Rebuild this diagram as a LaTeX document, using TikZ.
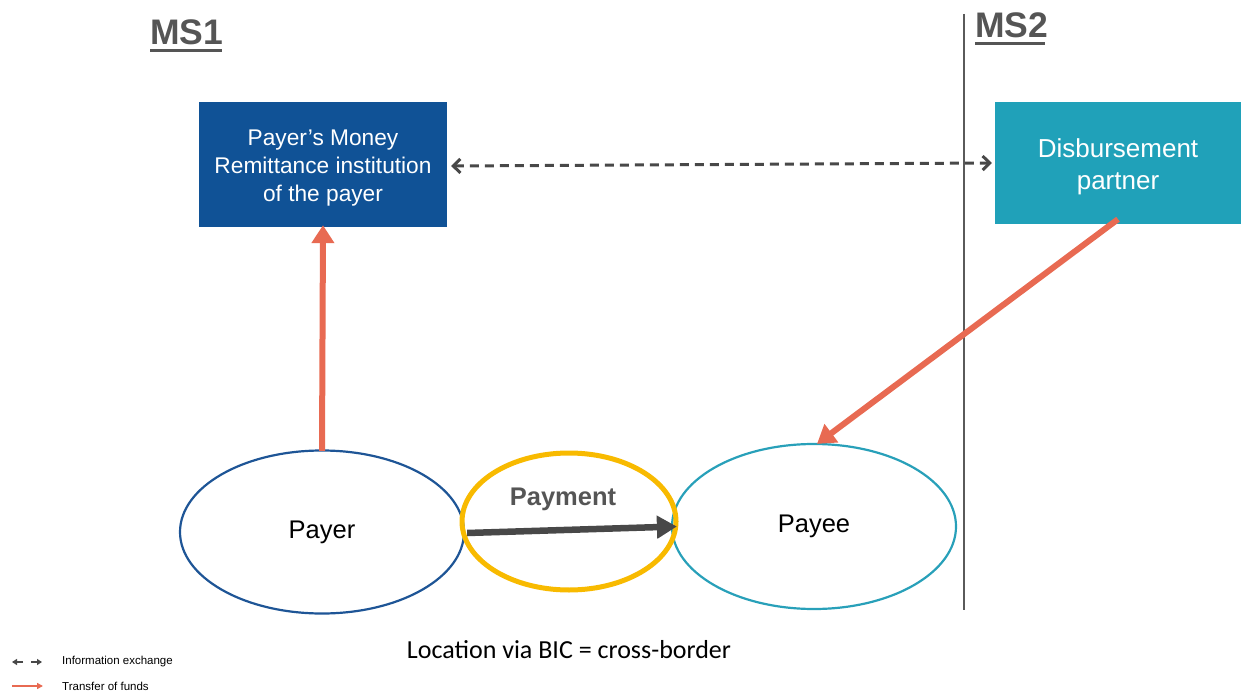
\documentclass[tikz,border=0pt]{standalone}
\usepackage{fontspec}
\setmainfont{Liberation Sans}
\newfontfamily\calib{Carlito}
\usetikzlibrary{arrows.meta,shapes.geometric}
\definecolor{boxblue}{RGB}{16,82,150}
\definecolor{boxteal}{RGB}{32,161,185}
\definecolor{funds}{RGB}{232,106,82}
\definecolor{payyel}{RGB}{248,186,0}
\definecolor{payerline}{RGB}{30,85,150}
\definecolor{payeeline}{RGB}{40,160,185}
\definecolor{darkg}{RGB}{72,72,72}
\definecolor{textg}{RGB}{85,85,85}
\tikzset{
  msl/.style={font=\fontsize{35.5}{35.5}\selectfont\bfseries, text=textg, inner sep=0pt, anchor=base west},
  instbox/.style={rectangle, fill=#1, inner sep=0pt},
  boxtext/.style={text=white, align=center, inner sep=0pt},
  party/.style={ellipse, draw=#1, line width=2.2pt, inner sep=0pt, font=\fontsize{25.5}{25.5}\selectfont},
  fundsarrow/.style={draw=funds, line width=6pt, -{Triangle[length=18pt,width=22pt]}},
  infoarrow/.style={draw=darkg, line width=3pt, dash pattern=on 9pt off 6pt, {Straight Barb[length=7pt,width=14pt]}-{Straight Barb[length=7pt,width=14pt]}},
  legtext/.style={font=\fontsize{11.5}{11.5}\selectfont, anchor=west, inner sep=0pt}
}
\begin{document}
\begin{tikzpicture}[x=1pt,y=-1pt]
\useasboundingbox (0,0) rectangle (1241,692);
% country labels
\node[msl] (ms1) at (150,45) {MS1};
\draw[textg, line width=3pt] (ms1.base west)++(0,5.5) -- ++(72,0);
\node[msl] (ms2) at (975,38) {MS2};
\draw[textg, line width=3pt] (ms2.base west)++(0,5.5) -- ++(70,0);
% border
\coordinate (btop) at (964,14);
\coordinate (bbot) at (964,610);
\draw[darkg!90, line width=1.6pt] (btop) -- (bbot);
% institutions
\node[instbox=boxblue, minimum width=248pt, minimum height=125pt] (inst) at (323,164.5) {};
\node[boxtext, font=\fontsize{22.7}{28}\selectfont] (insttext) at ([yshift=-3.5pt]inst.center)
  {Payer’s Money\\Remittance institution\\of the payer};
\node[instbox=boxteal, minimum width=246pt, minimum height=122pt] (disb) at (1118,163) {};
\node[boxtext, font=\fontsize{26}{32}\selectfont] (disbtext) at ([yshift=-4pt]disb.center)
  {Disbursement\\partner};
% parties
\node[party=payerline, minimum width=284pt, minimum height=163pt] (payer) at (322,532) {Payer};
\node[party=payeeline, minimum width=284pt, minimum height=165pt] (payee) at (814,526.5) {Payee};
\node[ellipse, draw=payyel, line width=5pt, minimum width=214pt, minimum height=137pt, inner sep=0pt] (payment) at (569,521.5) {};
\node[font=\fontsize{25.5}{25.5}\selectfont\bfseries, text=textg] (paylabel) at (563,499) {Payment};
% connectors
\draw[line width=6.5pt, draw=darkg, -{Triangle[length=20pt,width=22pt]}] ([xshift=2pt,yshift=-1pt]payer.east) -- ([xshift=6pt]payee.west);
\draw[fundsarrow] ([yshift=-1.5pt]payer.north) -- ([yshift=2pt]inst.south);
\draw[fundsarrow] ([yshift=5pt]disb.south) -- ([xshift=3pt,yshift=-1pt]payee.north);
\draw[infoarrow] ([xshift=4pt,yshift=-1.5pt]inst.east) -- ([xshift=-3pt]disb.west);
% caption
\node[font=\calib\fontsize{26}{26}\selectfont] (cap) at (569,650) {Location via BIC = cross-border};
% legend
\coordinate (l1a) at (23,662);
\coordinate (l1b) at (12,662);
\coordinate (l1c) at (31,662);
\coordinate (l1d) at (42,662);
\draw[darkg, line width=1.5pt, -{Triangle[length=5pt,width=6pt]}] (l1a) -- (l1b);
\draw[darkg, line width=1.5pt, -{Triangle[length=5pt,width=6pt]}] (l1c) -- (l1d);
\node[legtext] (leg1) at (62,662) {Information exchange};
\coordinate (l2a) at (12,686);
\coordinate (l2b) at (43,686);
\draw[funds, line width=1.5pt, -{Triangle[length=6pt,width=6pt]}] (l2a) -- (l2b);
\node[legtext] (leg2) at (62,686) {Transfer of funds};
\end{tikzpicture}
\end{document}
